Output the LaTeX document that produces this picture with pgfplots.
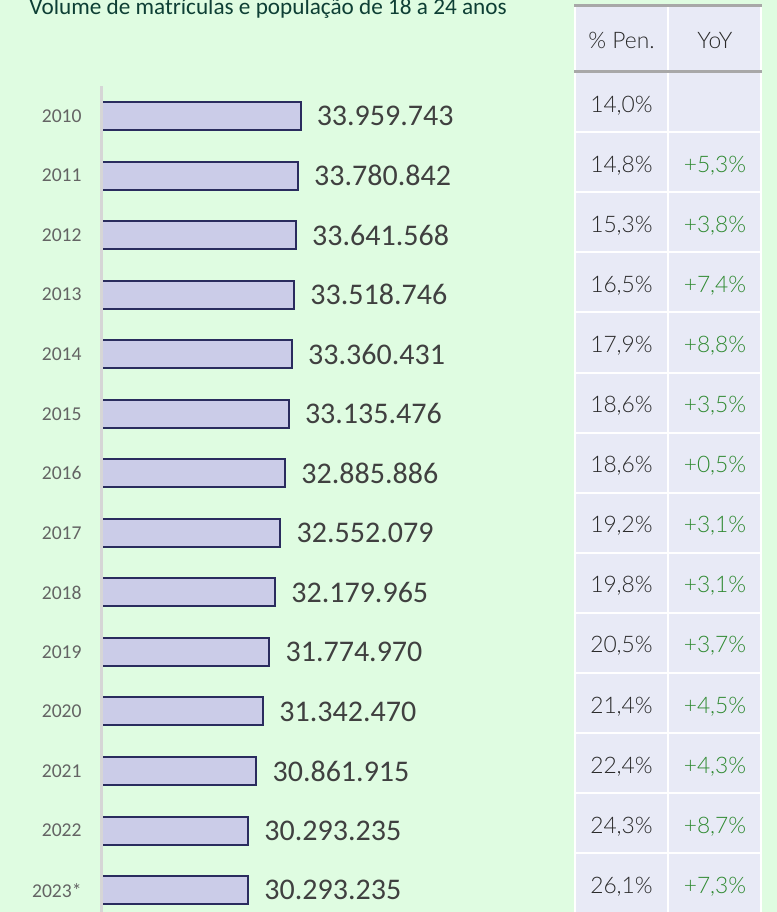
\documentclass[border=0pt]{standalone}
\usepackage{pgfplots}
\pgfplotsset{compat=1.18}
\usepackage{pgfplotstable}
\usepackage{fontspec}
\setmainfont{Carlito}
\newfontfamily\carl{Carlito}
\IfFontExistsTF{Lato Light}{\newfontfamily\lato{Lato Light}}{\newfontfamily\lato{Lato}}
\definecolor{bg}{HTML}{DFFCE1}
\definecolor{barfill}{HTML}{CBCCE8}
\definecolor{barline}{HTML}{2A2C5E}
\definecolor{cell}{HTML}{E8EAF6}
\definecolor{ygreen}{HTML}{2F8A31}
\definecolor{titlec}{HTML}{0E3F35}
\definecolor{axgray}{HTML}{D6D6D6}
\definecolor{hgray}{HTML}{A8A8A8}
\definecolor{labc}{HTML}{404040}
\definecolor{tickc}{HTML}{646464}
\definecolor{txtc}{HTML}{2A2A2A}

\pgfplotstableread{
idx val lab
0 33.959743 33.959.743
1 33.780842 33.780.842
2 33.641568 33.641.568
3 33.518746 33.518.746
4 33.360431 33.360.431
5 33.135476 33.135.476
6 32.885886 32.885.886
7 32.552079 32.552.079
8 32.179965 32.179.965
9 31.774970 31.774.970
10 31.342470 31.342.470
11 30.861915 30.861.915
12 30.293235 30.293.235
13 30.293235 30.293.235
}\popdata

\newcommand\trow[3]{%
 \node[tb] at (621.5,{112+60.1*#1}) {#2};
 \node[tb,text=ygreen] at (715,{112+60.1*#1}) {#3};}

\begin{document}
\begin{tikzpicture}
\begin{scope}[x=0.5pt,y=-0.5pt]
 \fill[bg] (0,0) rectangle (777,912);
\end{scope}

\begin{axis}[
 at={(50.75pt,-43.1pt)}, anchor=north west,
 scale only axis, width=228.16pt, height=416.85pt,
 xmin=20, xmax=52, ymin=-0.5, ymax=13.5, y dir=reverse,
 xbar, bar width=14pt, bar shift=0pt,
 axis on top,
 axis x line=none, axis y line*=left,
 axis line style={axgray, line width=1.4pt},
 ytick={0,...,13},
 yticklabels={2010,2011,2012,2013,2014,2015,2016,2017,2018,2019,2020,2021,2022,2023*},
 major tick length=0pt,
 yticklabel style={inner sep=0pt, xshift=-9.75pt, font=\carl\fontsize{9.8}{12}\selectfont, text=tickc},
 nodes near coords,
 point meta=explicit symbolic,
 every node near coord/.append style={anchor=west, inner sep=0pt, xshift=7.6pt, font=\carl\fontsize{15}{18}\selectfont, text=labc},
]
\addplot[fill=barfill, draw=barline, line width=1pt] table[x=val, y=idx, meta=lab] {\popdata};
\end{axis}

\begin{scope}[x=0.5pt,y=-0.5pt, tb/.style={anchor=base, inner sep=0pt, font=\lato\fontsize{11.4}{13}\selectfont, text=txtc}]
 \fill[cell] (574,5) rectangle (762,912);
 \foreach \k in {1,...,13} {\draw[white, line width=1pt] (574,{72+60.1*\k}) -- (762,{72+60.1*\k});}
 \draw[white, line width=1pt] (575,5) -- (575,912);
 \draw[white, line width=1pt] (667.5,5) -- (667.5,912);
 \draw[white, line width=1pt] (761,5) -- (761,912);
 \draw[hgray, line width=1.5pt] (574,5) -- (762,5);
 \draw[hgray, line width=1.5pt] (574,71) -- (762,71);
 \node[tb] at (621.5,48) {\% Pen.};
 \node[tb] at (715,48) {YoY};
 \trow{0}{14,0\%}{}
 \trow{1}{14,8\%}{+5,3\%}
 \trow{2}{15,3\%}{+3,8\%}
 \trow{3}{16,5\%}{+7,4\%}
 \trow{4}{17,9\%}{+8,8\%}
 \trow{5}{18,6\%}{+3,5\%}
 \trow{6}{18,6\%}{+0,5\%}
 \trow{7}{19,2\%}{+3,1\%}
 \trow{8}{19,8\%}{+3,1\%}
 \trow{9}{20,5\%}{+3,7\%}
 \trow{10}{21,4\%}{+4,5\%}
 \trow{11}{22,4\%}{+4,3\%}
 \trow{12}{24,3\%}{+8,7\%}
 \trow{13}{26,1\%}{+7,3\%}
 \node[anchor=base west, inner sep=0pt, font=\carl\fontsize{11.6}{14}\selectfont, text=titlec] at (29,14.5) {Volume de matrículas e população de 18 a 24 anos};
 \pgfresetboundingbox
 \path[use as bounding box] (0,0) rectangle (777,912);
\end{scope}
\end{tikzpicture}
\end{document}
